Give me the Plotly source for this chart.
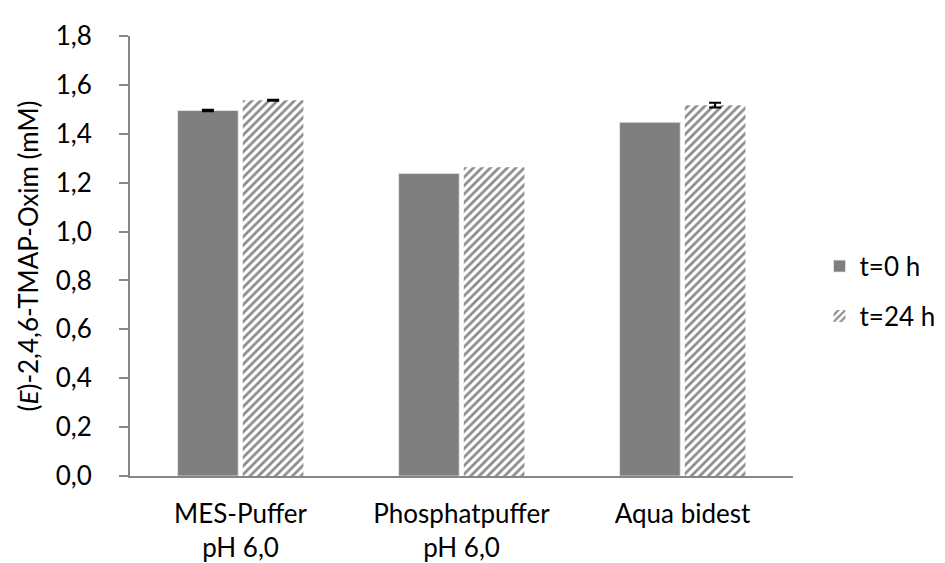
import plotly.graph_objects as go

categories = ["MES-Puffer<br>pH 6,0", "Phosphatpuffer<br>pH 6,0", "Aqua bidest"]
t0_values = [1.495, 1.238, 1.447]
t24_values = [1.537, 1.263, 1.517]
t0_errors = [0.003, None, None]
t24_errors = [0.002, None, 0.010]
y_ticks = [0.0, 0.2, 0.4, 0.6, 0.8, 1.0, 1.2, 1.4, 1.6, 1.8]

FONT = "Lato, Calibri, Carlito, sans-serif"
GRAY = "#7f7f7f"
AXIS = "#868686"
FS = 26

t0_marker = dict(color=GRAY, line=dict(color="#e8e8e8", width=0.8))
t24_marker = dict(color="white",
                  pattern=dict(shape="/", fgcolor="#8a8a8a", bgcolor="white",
                               size=6, solidity=0.45, fillmode="replace"),
                  line=dict(color="white", width=0))

fig = go.Figure()
fig.add_trace(go.Bar(x=categories, y=t0_values, name="t=0 h", legendgroup="a",
                     offsetgroup="a", marker=t0_marker))
fig.add_trace(go.Bar(x=categories, y=t24_values, name="t=24 h", legendgroup="b",
                     offsetgroup="b", marker=t24_marker))

# error bars only where an error value exists
for vals, errs, grp in [(t0_values, t0_errors, "a"), (t24_values, t24_errors, "b")]:
    xs = [c for c, e in zip(categories, errs) if e is not None]
    ys = [v for v, e in zip(vals, errs) if e is not None]
    es = [e for e in errs if e is not None]
    fig.add_trace(go.Bar(x=xs, y=ys, offsetgroup=grp, showlegend=False,
                         hoverinfo="skip",
                         marker=dict(color="rgba(0,0,0,0)", line=dict(width=0)),
                         error_y=dict(type="data", array=es, visible=True,
                                      color="black", thickness=2, width=6)))

fig.update_layout(
    width=945, height=563,
    margin=dict(l=122, r=155, t=28, b=95),
    paper_bgcolor="white", plot_bgcolor="white",
    separators=",.",
    barmode="group", bargap=0.41, bargroupgap=0.07,
    font=dict(family=FONT, size=FS, color="black"),
    showlegend=True,
    legend=dict(x=1.04, y=0.42, yanchor="middle", xanchor="left",
                font=dict(size=FS), tracegroupgap=13,
                itemwidth=30, bgcolor="rgba(0,0,0,0)"),
    xaxis=dict(showline=True, linecolor=AXIS, linewidth=2, automargin=False,
               ticks="", tickfont=dict(size=FS), ticklabelstandoff=14,
               showgrid=False),
    yaxis=dict(range=[0, 1.8], tickvals=y_ticks, tickformat=".1f",
               showline=True, linecolor=AXIS, linewidth=2, automargin=False,
               ticks="outside", ticklen=9, tickwidth=1.5, tickcolor=AXIS,
               ticklabelstandoff=22,
               showgrid=False, zeroline=False, tickfont=dict(size=FS),
               title=dict(text="(<i>E</i>)-2,4,6-TMAP-Oxim (mM)",
                          font=dict(size=FS), standoff=10)),
)

fig.write_html("out.html")
